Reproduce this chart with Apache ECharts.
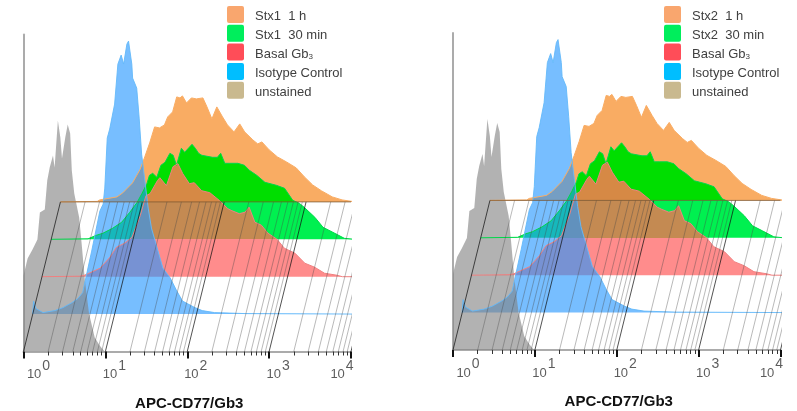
<!DOCTYPE html>
<html lang="en">

<head>
    <meta charset="UTF-8">
    <title>APC-CD77/Gb3 histograms</title>
    <script src="https://cdn.jsdelivr.net/npm/echarts@6/dist/echarts.min.js"></script>
    <style>
        html, body { margin: 0; padding: 0; background: #fff; }
    </style>
</head>

<body>
    <div id="main" style="width: 797px;height:411px;"></div>
    <script type="text/javascript">
        // x values are log10(APC-CD77/Gb3), y values are relative counts
        const unstainedX = [0, 0.05, 0.11, 0.17, 0.20, 0.26, 0.29, 0.32, 0.36, 0.38, 0.42, 0.45, 0.47, 0.51, 0.54, 0.57, 0.59, 0.62, 0.68, 0.71, 0.75, 0.80, 0.87, 0.93, 0.99];
        const unstainedY = [76, 93, 102, 112, 139, 142, 171, 184, 196, 184, 231, 214, 193, 214, 227, 218, 181, 158, 134, 108, 71, 38, 14, 6, 0];

        const isotypeX = [0, 0.01, 0.04, 0.125, 0.27, 0.37, 0.48, 0.55, 0.61, 0.64, 0.72, 0.82, 0.86, 0.88, 0.91, 0.94, 1.00, 1.04, 1.08, 1.11, 1.15, 1.17, 1.21, 1.22, 1.27, 1.30, 1.33, 1.37, 1.41, 1.45, 1.52, 1.59, 1.68, 1.76, 1.83, 1.98, 2.07, 2.22, 2.60, 4];
        const isotypeY = [0, 13, 5.5, 1.5, 3.5, 6.5, 11.5, 15.5, 21.5, 33, 63, 103, 110, 126, 176, 185, 210, 250, 259, 250, 270, 273, 250, 236, 226, 196, 160, 133, 106, 86, 66, 46, 36, 23, 13, 6.5, 3.5, 1.5, 0.5, 0];

        const basalX = [0, 0.46, 0.52, 0.71, 0.83, 0.91, 1.01, 1.10, 1.20, 1.27, 1.32, 1.41, 1.44, 1.52, 1.60, 1.66, 1.72, 1.80, 1.86, 1.95, 2.05, 2.17, 2.27, 2.32, 2.41, 2.48, 2.53, 2.60, 2.68, 2.76, 2.87, 2.96, 3.09, 3.21, 3.33, 3.45, 3.60, 3.67, 3.80];
        const basalY = [0, 0.5, 1.5, 8.5, 19.5, 29.5, 33.5, 39.5, 61, 81, 83, 96, 99, 91, 110, 113, 103, 93, 94, 86, 84, 76, 68, 66, 63, 64.5, 69.5, 54.5, 51.5, 43.5, 37.5, 28.5, 23.5, 13.5, 9.5, 3.5, 1.5, 0, 0];

        const stx30minX = [0, 0.45, 0.55, 0.63, 0.75, 0.86, 0.96, 1.05, 1.11, 1.17, 1.20, 1.24, 1.29, 1.34, 1.39, 1.45, 1.49, 1.53, 1.59, 1.63, 1.72, 1.76, 1.80, 1.84, 1.97, 2.03, 2.07, 2.12, 2.18, 2.28, 2.36, 2.42, 2.51, 2.61, 2.75, 2.85, 2.95, 3.03, 3.09, 3.22, 3.32, 3.44, 3.58, 3.70];
        const stx30minY = [0, 0.5, 4, 6, 11, 17, 27, 37, 46, 56, 64, 66, 62, 74, 77, 86, 84, 74, 91, 87, 95, 91, 86, 84, 82, 82, 86, 76, 76, 76, 74, 69, 64, 57, 54, 51, 39, 36, 32, 22, 12, 7, 1, 0];

        const stx1hX = [0, 0.45, 0.48, 0.69, 0.76, 0.88, 0.97, 1.03, 1.09, 1.15, 1.21, 1.27, 1.31, 1.37, 1.42, 1.46, 1.49, 1.54, 1.60, 1.66, 1.74, 1.79, 1.85, 1.91, 1.98, 2.04, 2.12, 2.19, 2.25, 2.35, 2.41, 2.46, 2.55, 2.65, 2.76, 2.88, 2.98, 3.08, 3.19, 3.32, 3.44, 3.60];
        const stx1hY = [0, 0.5, 2, 5, 9, 19, 32, 45, 59, 75, 74, 77, 85, 90, 105, 104, 106, 99, 104, 103, 104, 95, 83, 95, 85, 77, 70, 78, 70, 62, 58, 60, 52, 45, 40, 34, 25, 17, 11, 5, 2, 0];

        const decades = [0, 1, 2, 3, 4];
        const minorFactors = [2, 3, 4, 5, 6, 7, 8, 9];
        const decadeLabels = ['0', '1', '2', '3', '4'];
        const labelShift = [15, 9, 8.5, 9, -9];

        const axisTitle = 'APC-CD77/Gb3';
        const legendStx1 = ['Stx1  1 h', 'Stx1  30 min', 'Basal Gb3', 'Isotype Control', 'unstained'];
        const legendStx2 = ['Stx2  1 h', 'Stx2  30 min', 'Basal Gb3', 'Isotype Control', 'unstained'];
        const legendColors = ['#F9A66E', '#00EE5C', '#FF4D58', '#00BEFF', '#C9B98F'];

        // each histogram sits one step further back than the one before it
        const skewX = 0.1128;
        const skewY = 37.4;

        // colours change where a trace passes over the back layers
        function bands(values, colors) {
            const peak = Math.max(...values);
            const stops = [];
            colors.forEach((c, i) => {
                const from = i === 0 ? 0 : i * skewY / peak;
                const to = i === colors.length - 1 ? 1 : (i + 1) * skewY / peak;
                stops.push({ offset: from, color: c }, { offset: to, color: c });
            });
            return new echarts.graphic.LinearGradient(0, 1, 0, 0, stops);
        }

        function histogram(name, xs, ys, layer, fill, stroke, axisIdx) {
            return {
                name: name,
                type: 'line',
                xAxisIndex: axisIdx.x,
                yAxisIndex: axisIdx.y,
                symbol: 'none',
                silent: true,
                animation: false,
                lineStyle: stroke ? { color: stroke, width: 1 } : { width: 0 },
                areaStyle: { color: fill, opacity: 1, origin: layer * skewY },
                data: xs.map((x, i) => [x + layer * skewX, ys[i] + layer * skewY])
            };
        }

        // slanted grid lines run from the axis back to the last layer, the grid clips them at the right
        function slantLines(values) {
            const pts = [];
            values.forEach(v => {
                pts.push([v, 0], [v + 4 * skewX, 4 * skewY], [null, null]);
            });
            return pts;
        }

        function minorValues() {
            const minors = [];
            decades.slice(0, -1).forEach(d => minorFactors.forEach(f => minors.push(d + Math.log10(f))));
            return minors;
        }

        function panelSeries(names, oneHourX, oneHourY, thirtyX, thirtyY, idx) {
            const axisIdx = { x: idx * 2, y: idx };
            return [
                histogram(names[0], oneHourX, oneHourY, 4, '#F9AC63', '#F9AC63', axisIdx),
                histogram(names[1], thirtyX, thirtyY, 3, bands(thirtyY, ['#00F050', '#00DE00']), '#00D84A', axisIdx),
                histogram(names[2], basalX, basalY, 2, bands(basalY, ['#FF8C8C', '#C48A52', '#D68945']), '#F08080', axisIdx),
                histogram(names[3], isotypeX, isotypeY, 1, 'rgba(35,150,255,0.62)', 'rgba(100,185,250,0.9)', axisIdx),
                histogram(names[4], unstainedX, unstainedY, 0, 'rgba(130,130,130,0.62)', null, axisIdx),
                {
                    type: 'line', xAxisIndex: axisIdx.x, yAxisIndex: axisIdx.y, symbol: 'none', silent: true, animation: false,
                    lineStyle: { color: 'rgba(70,70,70,0.38)', width: 1 },
                    data: slantLines(minorValues())
                },
                {
                    type: 'line', xAxisIndex: axisIdx.x, yAxisIndex: axisIdx.y, symbol: 'none', silent: true, animation: false,
                    lineStyle: { color: 'rgba(15,15,15,0.72)', width: 1 },
                    data: slantLines(decades)
                },
                {
                    type: 'line', xAxisIndex: axisIdx.x, yAxisIndex: axisIdx.y, symbol: 'none', silent: true, animation: false,
                    lineStyle: { color: 'rgba(120,85,50,0.75)', width: 1 },
                    data: [[4 * skewX, 4 * skewY], [4, 4 * skewY]]
                },
                {
                    type: 'scatter', xAxisIndex: axisIdx.x, yAxisIndex: axisIdx.y, symbolSize: 0, silent: true, animation: false,
                    clip: false,
                    label: {
                        show: true,
                        position: 'bottom',
                        formatter: p => '{b|10}{s|' + decadeLabels[p.dataIndex] + '}',
                        rich: {
                            b: { fontFamily: 'Liberation Sans', fontSize: 13, color: '#333', verticalAlign: 'bottom', lineHeight: 14 },
                            s: { fontFamily: 'Liberation Sans', fontSize: 14, color: '#333', verticalAlign: 'bottom', lineHeight: 14, padding: [0, 0, 8, 1] }
                        }
                    },
                    data: decades.map((d, i) => ({ value: [d, 0], label: { offset: [labelShift[i], 10.5] } }))
                }
            ];
        }

        function xAxesFor(gridIndex) {
            return [
                {
                    gridIndex: gridIndex, type: 'value', min: 0, max: 4, position: 'bottom',
                    splitLine: { show: false }, axisLabel: { show: false },
                    axisLine: { show: true, onZero: false, lineStyle: { color: '#ABABAB', width: 2 } },
                    axisTick: { show: true, customValues: decades, length: 7, lineStyle: { color: '#111', width: 2 } },
                    name: axisTitle, nameLocation: 'middle', nameGap: 44.5,
                    nameTextStyle: { fontFamily: 'Liberation Sans', fontWeight: 'bold', fontSize: 15, color: '#111', padding: [0, 0, 0, 4] }
                },
                {
                    gridIndex: gridIndex, type: 'value', min: 0, max: 4, position: 'bottom',
                    splitLine: { show: false }, axisLabel: { show: false }, axisLine: { show: false },
                    axisTick: { show: true, customValues: minorValues(), length: 4, lineStyle: { color: '#333', width: 1 } }
                }
            ];
        }

        function yAxisFor(gridIndex) {
            return {
                gridIndex: gridIndex, type: 'value', min: 0, max: 317, position: 'left',
                splitLine: { show: false }, axisLabel: { show: false }, axisTick: { show: false },
                axisLine: { show: true, onZero: false, lineStyle: { color: '#ABABAB', width: 2 } }
            };
        }

        function legendFor(names, left) {
            return {
                left: left, top: 6, orient: 'vertical', padding: 0, itemWidth: 17, itemHeight: 17, itemGap: 1.8,
                icon: 'path://M2,0H15Q17,0,17,2V15Q17,17,15,17H2Q0,17,0,15V2Q0,0,2,0Z',
                selectedMode: false,
                data: names.map((n, i) => ({ name: n, itemStyle: { color: legendColors[i] } })),
                formatter: n => n === 'Basal Gb3' ? '{t|Basal Gb}{u|3}' : '{t|' + n + '}',
                textStyle: {
                    rich: {
                        t: { fontFamily: 'Liberation Sans', fontSize: 13, color: '#404040', padding: [4, 0, 0, 6] },
                        u: { fontFamily: 'Liberation Sans', fontSize: 8, color: '#404040', verticalAlign: 'bottom', padding: [10, 0, 0, 0] }
                    }
                }
            };
        }

        const myChart = echarts.init(document.getElementById('main'));
        myChart.setOption({
            animation: false,
            legend: [legendFor(legendStx1, 227), legendFor(legendStx2, 664)],
            grid: [
                { left: 23.5, width: 327.5, top: 34.5, height: 317, outerBoundsMode: 'none' },
                { left: 453, width: 327.5, top: 33, height: 317, outerBoundsMode: 'none' }
            ],
            xAxis: xAxesFor(0).concat(xAxesFor(1)),
            yAxis: [yAxisFor(0), yAxisFor(1)],
            // the Stx2 traces read the same as the Stx1 ones at this resolution
            series: panelSeries(legendStx1, stx1hX, stx1hY, stx30minX, stx30minY, 0)
                .concat(panelSeries(legendStx2, stx1hX, stx1hY, stx30minX, stx30minY, 1))
        });
    </script>
</body>

</html>
